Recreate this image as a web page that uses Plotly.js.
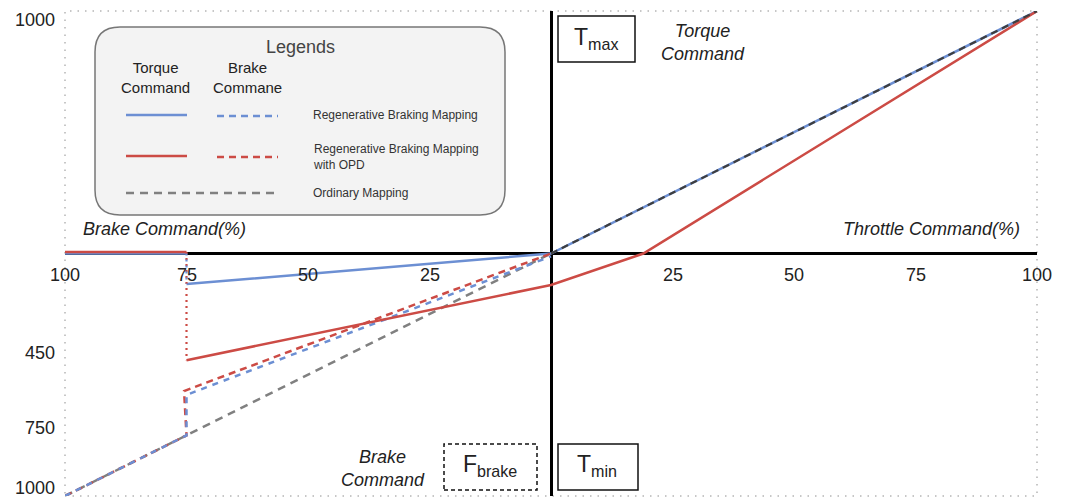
<!DOCTYPE html>
<html>
<head>
<meta charset="utf-8">
<script src="https://cdn.plot.ly/plotly-3.0.1.min.js"></script>
<style>html,body{margin:0;padding:0;background:#fff;}#chart{width:1067px;height:499px;}</style>
</head>
<body>
<div id="chart"></div>
<script>
// ---- Data (x: negative = Brake Command %, positive = Throttle Command %) ----
const ordinaryBrakeX = [-100, -75, 0];
const ordinaryBrakeY = [-1000, -750, 0];
const ordinaryTorqueX = [0, 100];
const ordinaryTorqueY = [0, 1000];

const regenTorqueX = [-100, -75, null, -75, 0, 100];
const regenTorqueY = [0, 0, null, -126, 0, 1000];
const regenTorqueDropX = [-75, -75];
const regenTorqueDropY = [0, -126];
const regenBrakeX = [-100, -75, -75, 0];
const regenBrakeY = [-1000, -750, -583, -12];

const opdTorqueX = [-100, -75, null, -75, 0, 19, 100];
const opdTorqueY = [6, 6, null, -440, -130, 0, 1000];
const opdTorqueDropX = [-75, -75];
const opdTorqueDropY = [6, -440];
const opdBrakeX = [-100, -75, -75.5, 0];
const opdBrakeY = [-1000, -750, -567, 0];

const xTickVals = [-100, -75, -50, -25, 25, 50, 75, 100];
const xTickText = ['100', '75', '50', '25', '25', '50', '75', '100'];
const yTickVals = [963, -410, -720, -967];
const yTickText = ['1000', '450', '750', '1000'];

// ---- Styles ----
const BLUE = '#6c8fd3', RED = '#cc4b45', GREY = '#808080', DARK = '#3e3e3e';
const FONT = '"Liberation Sans", Arial, sans-serif';

// pixel -> data helpers for decorations (plot area 65..1037 x 11..496)
const X = p => -100 + (p - 65) / 972 * 200;
const Y = p => 1000 - (p - 11) / 485 * 2000;

function line(x, y, color, dash, width) {
  return {x: x, y: y, type: 'scatter', mode: 'lines', hoverinfo: 'skip', showlegend: false,
    line: {color: color, width: width || 2.5, dash: dash || 'solid'}, connectgaps: false};
}

const traces = [
  line(ordinaryBrakeX, ordinaryBrakeY, GREY, '8px,6px', 2.5),
  line(regenTorqueX, regenTorqueY, BLUE, 'solid', 2.5),
  line(opdTorqueDropX, opdTorqueDropY, RED, '2px,4px', 2.2),
  line(regenTorqueDropX, regenTorqueDropY, BLUE, '2px,4px', 2.2),
  line(opdBrakeX, opdBrakeY, RED, '7px,5px', 2.5),
  line(regenBrakeX, regenBrakeY, BLUE, '6px,6px', 2.5),
  line(opdTorqueX, opdTorqueY, RED, 'solid', 2.5),
  line(ordinaryTorqueX, ordinaryTorqueY, DARK, '7px,5px', 2.2)
];

// legend rounded box
const lx0 = X(95), lx1 = X(505), ly1 = Y(27), ly0 = Y(215);
const rx = 25 / 4.86, ry = 25 / 0.2425;
const boxPath = `M ${lx0+rx},${ly1} L ${lx1-rx},${ly1} Q ${lx1},${ly1} ${lx1},${ly1-ry} L ${lx1},${ly0+ry} Q ${lx1},${ly0} ${lx1-rx},${ly0} L ${lx0+rx},${ly0} Q ${lx0},${ly0} ${lx0},${ly0+ry} L ${lx0},${ly1-ry} Q ${lx0},${ly1} ${lx0+rx},${ly1} Z`;

function seg(px0, px1, py, color, dash) {
  return {type: 'line', xref: 'x', yref: 'y', x0: X(px0), x1: X(px1), y0: Y(py), y1: Y(py),
    line: {color: color, width: 2.5, dash: dash}};
}
function rect(px0, py0, px1, py1, dash) {
  return {type: 'rect', xref: 'x', yref: 'y', x0: X(px0), x1: X(px1), y0: Y(py1), y1: Y(py0),
    line: {color: '#111', width: 1.5, dash: dash || 'solid'}, fillcolor: 'rgba(0,0,0,0)'};
}

const shapes = [
  {type: 'rect', xref: 'paper', yref: 'paper', x0: 0, x1: 1, y0: 0, y1: 1,
    line: {color: '#b5b5b5', width: 1.5, dash: '1.5px,6px'}, layer: 'below'},
  {type: 'path', xref: 'x', yref: 'y', path: boxPath, fillcolor: '#f3f3f3',
    line: {color: '#777', width: 1.5}},
  seg(126, 187, 115, BLUE, 'solid'),
  seg(217, 278, 116, BLUE, '7px,5px'),
  seg(126, 187, 156, RED, 'solid'),
  seg(217, 278, 157, RED, '7px,5px'),
  seg(126, 278, 193, GREY, '8px,6px'),
  rect(558, 16, 635, 62),
  rect(558, 444, 638, 490),
  rect(444, 444, 537, 490, '4px,3px')
];

function ann(px, py, text, size, opts) {
  return Object.assign({x: X(px), y: Y(py), xref: 'x', yref: 'y', text: text, showarrow: false,
    xanchor: 'center', yanchor: 'middle', font: {family: FONT, size: size, color: '#222'}}, opts || {});
}

const annotations = [];
xTickVals.forEach((v, i) => {
  annotations.push({x: v, y: 0, xref: 'x', yref: 'y', text: xTickText[i], showarrow: false,
    xanchor: 'center', yanchor: 'middle', yshift: -21, font: {family: FONT, size: 18, color: '#222'}});
});
annotations.push(
  ann(164, 229, '<i>Brake Command(%)</i>', 18),
  ann(931, 229, '<i>Throttle Command(%)</i>', 18),
  ann(703, 42, '<i>Torque<br>Command</i>', 18),
  ann(383, 468, '<i>Brake<br>Command</i>', 18),
  ann(596, 38, 'T<sub>max</sub>', 23),
  ann(597, 465, 'T<sub>min</sub>', 23),
  ann(490, 465, 'F<sub>brake</sub>', 23),
  ann(300, 47, 'Legends', 18, {font: {family: FONT, size: 18, color: '#444'}}),
  ann(155, 77, 'Torque<br>Command', 15),
  ann(247, 77, 'Brake<br>Commane', 15),
  ann(311, 115, 'Regenerative Braking Mapping', 12, {xanchor: 'left', font: {family: FONT, size: 12, color: '#333'}}),
  ann(311, 157, 'Regenerative Braking Mapping<br>with OPD', 12, {xanchor: 'left', align: 'left', font: {family: FONT, size: 12, color: '#333'}}),
  ann(311, 193, 'Ordinary Mapping', 12, {xanchor: 'left', font: {family: FONT, size: 12, color: '#333'}})
);

const layout = {
  width: 1067, height: 499,
  margin: {l: 65, r: 30, t: 11, b: 3, pad: 0},
  paper_bgcolor: '#ffffff', plot_bgcolor: '#ffffff',
  showlegend: false,
  font: {family: FONT, color: '#222'},
  xaxis: {range: [-100, 100], showgrid: false, zeroline: true, zerolinecolor: '#000', zerolinewidth: 3,
    showticklabels: false, ticks: '', showline: false, fixedrange: true},
  yaxis: {range: [-1000, 1000], showgrid: false, zeroline: true, zerolinecolor: '#000', zerolinewidth: 3,
    tickvals: yTickVals, ticktext: yTickText, ticks: '', ticklabelstandoff: 9,
    tickfont: {family: FONT, size: 18, color: '#222'}, showline: false, fixedrange: true},
  shapes: shapes,
  annotations: annotations
};

Plotly.newPlot('chart', traces, layout, {staticPlot: true, displayModeBar: false});
</script>
</body>
</html>
